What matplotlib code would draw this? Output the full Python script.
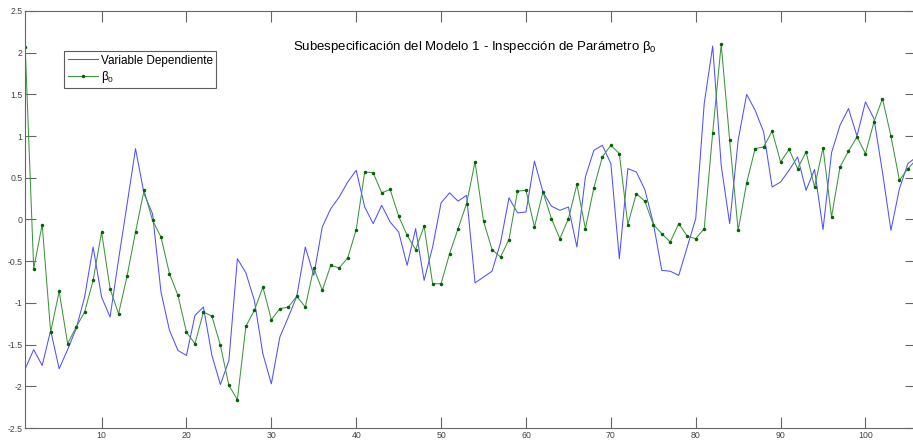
import numpy as np
import matplotlib.pyplot as plt
from matplotlib.ticker import FormatStrFormatter

plt.rcParams['font.family'] = ['Liberation Sans', 'DejaVu Sans']
plt.rcParams['mathtext.default'] = 'regular'

# dependent variable and estimated beta_0, one value per observation
dependiente = [
    -1.79, -1.56, -1.75, -1.33, -1.79, -1.56, -1.31, -0.93, -0.33, -0.93,
    -1.17, -0.48, 0.18, 0.85, 0.31, 0.07, -0.87, -1.33, -1.57, -1.63,
    -1.15, -1.05, -1.63, -1.98, -1.69, -0.47, -0.64, -0.97, -1.61, -1.97,
    -1.41, -1.17, -0.92, -0.33, -0.67, -0.09, 0.13, 0.27, 0.45, 0.59,
    0.15, -0.05, 0.17, -0.03, -0.15, -0.55, -0.11, -0.73, -0.33, 0.20,
    0.32, 0.22, 0.29, -0.76, -0.69, -0.62, -0.28, 0.26, 0.08, 0.09,
    0.70, 0.33, 0.16, 0.11, 0.15, -0.33, 0.51, 0.83, 0.89, 0.67,
    -0.47, 0.61, 0.57, 0.36, -0.04, -0.61, -0.62, -0.67, -0.33, 0.01,
    1.39, 2.08, 0.65, -0.05, 0.95, 1.50, 1.31, 1.05, 0.39, 0.45,
    0.59, 0.75, 0.35, 0.60, -0.12, 0.80, 1.13, 1.33, 1.00, 1.41,
    1.21, 0.57, -0.13, 0.37, 0.67, 0.75,
]
beta0 = [
    2.07, -0.59, -0.06, -1.35, -0.86, -1.49, -1.29, -1.11, -0.73, -0.15,
    -0.83, -1.13, -0.68, -0.15, 0.35, -0.01, -0.21, -0.65, -0.91, -1.35,
    -1.49, -1.11, -1.16, -1.51, -1.99, -2.16, -1.28, -1.09, -0.81, -1.20,
    -1.07, -1.05, -0.92, -1.05, -0.58, -0.85, -0.55, -0.58, -0.46, -0.12,
    0.57, 0.56, 0.32, 0.36, 0.04, -0.19, -0.36, -0.08, -0.77, -0.77,
    -0.41, -0.11, 0.19, 0.69, -0.02, -0.36, -0.45, -0.24, 0.34, 0.35,
    -0.09, 0.33, 0.01, -0.23, 0.01, 0.42, -0.11, 0.38, 0.75, 0.89,
    0.79, -0.06, 0.31, 0.22, -0.06, -0.17, -0.27, -0.05, -0.20, -0.23,
    -0.11, 1.04, 2.10, 0.95, -0.13, 0.44, 0.85, 0.87, 1.06, 0.69,
    0.84, 0.61, 0.81, 0.39, 0.86, 0.03, 0.63, 0.82, 0.99, 0.79,
    1.17, 1.45, 1.00, 0.47, 0.61, 0.72,
]
obs = np.arange(1, len(dependiente) + 1)

W, H = 913, 443
fig = plt.figure(figsize=(W / 100, H / 100), dpi=100)
x0, x1 = 25.2, 916.4
y0, y1 = 11, 428
ax = fig.add_axes([x0 / W, 1 - y1 / H, (x1 - x0) / W, (y1 - y0) / H])

ax.plot(obs, dependiente, color='#5050ff', lw=0.75, label='Variable Dependiente')
ax.plot(obs, beta0, color='#3c963c', lw=0.75, marker='.', ms=3,
        mfc='#006400', mec='#006400', label=r'$\beta_0$')

ax.set_xlim(1, 106)
ax.set_ylim(-2.5, 2.5)
ax.set_xticks(np.arange(10, 101, 10))
ax.set_yticks(np.arange(-2.5, 2.51, 0.5))
ax.yaxis.set_major_formatter(FormatStrFormatter('%g'))

grey = '#666666'
for sp in ax.spines.values():
    sp.set_color(grey)
    sp.set_linewidth(0.8)
ax.tick_params(direction='in', length=8, width=0.8, color=grey,
               labelsize=6.3, labelcolor='#444444', pad=2,
               top=True, right=True)

leg = ax.legend(loc='upper left', bbox_to_anchor=((64 - x0) / (x1 - x0), 1 - (51 - y0) / (y1 - y0)),
                fontsize=8.5, frameon=True, fancybox=False, borderaxespad=0,
                handlelength=2.6, handletextpad=0.2, borderpad=0.3, labelspacing=0.2)
leg.get_frame().set_edgecolor('#333333')
leg.get_frame().set_linewidth(0.8)

fig.text(475 / W, 1 - 47 / H,
         r'Subespecificación del Modelo 1 - Inspección de Parámetro $\beta_0$',
         ha='center', va='center', fontsize=9.5)

fig.savefig('out.png', dpi=100)
